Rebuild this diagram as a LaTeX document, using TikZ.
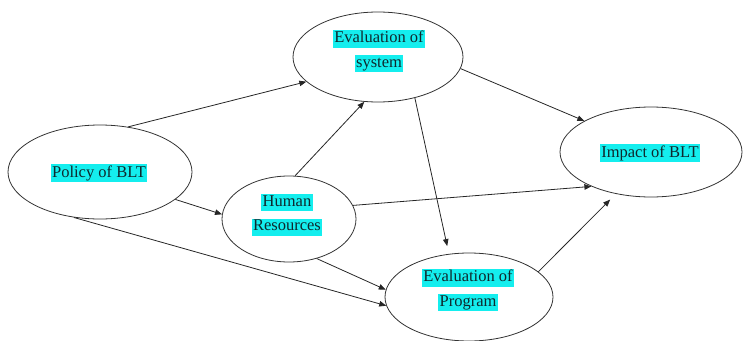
\documentclass[tikz,border=0pt]{standalone}
\usepackage{fontspec}
\setmainfont{Liberation Serif}
\newfontfamily\tnrfont{Liberation Serif}
\usetikzlibrary{shapes.geometric,arrows.meta}
\definecolor{hlcyan}{RGB}{20,238,238}
\definecolor{txtcol}{RGB}{15,40,45}
\newcommand{\hlt}[1]{{\setlength{\fboxsep}{1.5pt}\colorbox{hlcyan}{\vphantom{Agy}#1}}}
\begin{document}
\begin{tikzpicture}[x=1pt,y=-1pt,
  oval/.style={ellipse,draw=black!80,line width=0.8pt,inner sep=0pt},
  lbl/.style={align=center,text=txtcol,inner sep=0pt,font=\tnrfont\fontsize{16.5}{24.5}\selectfont},
  conn/.style={draw=black!85,line width=0.8pt,-{Triangle[length=7pt,width=5.5pt]}}]
\useasboundingbox (0,0) rectangle (744,340);
% ellipses
\node[oval,minimum width=184pt,minimum height=94pt] (pol) at (100,172) {};
\node[oval,minimum width=134pt,minimum height=86pt] (hum) at (289,219) {};
\node[oval,minimum width=170pt,minimum height=90pt] (sys) at (378,57) {};
\node[oval,minimum width=168pt,minimum height=88pt] (prog) at (469,297) {};
\node[oval,minimum width=182pt,minimum height=90pt] (imp) at (651,152) {};
% labels
\node[lbl] (polt) at (99,173) {\hlt{Policy of BLT}};
\node[lbl] (humt) at (287,215) {\hlt{Human}\\\hlt{Resources}};
\node[lbl] (syst) at (379,51) {\hlt{Evaluation of}\\\hlt{system}};
\node[lbl] (progt) at (468,290) {\hlt{Evaluation of}\\\hlt{Program}};
\node[lbl] (impt) at (650,153) {\hlt{Impact of BLT}};
% connectors
\draw[conn] (pol.58) -- (sys.-161);
\draw[conn] (pol.-20) -- (hum.176);
\draw[conn] (pol.-120) -- (prog.186);
\draw[conn] (hum.82) -- (sys.-107);
\draw[conn] (hum.12) -- (imp.-150);
\draw[conn] (hum.-55) -- (prog.175);
\draw[conn] (sys.-8) -- (imp.155);
\draw[conn,shorten >=8pt] (sys.-48) -- (prog.115);
\draw[conn,shorten >=8pt] (prog.20) -- (imp.-130);
\end{tikzpicture}
\end{document}
